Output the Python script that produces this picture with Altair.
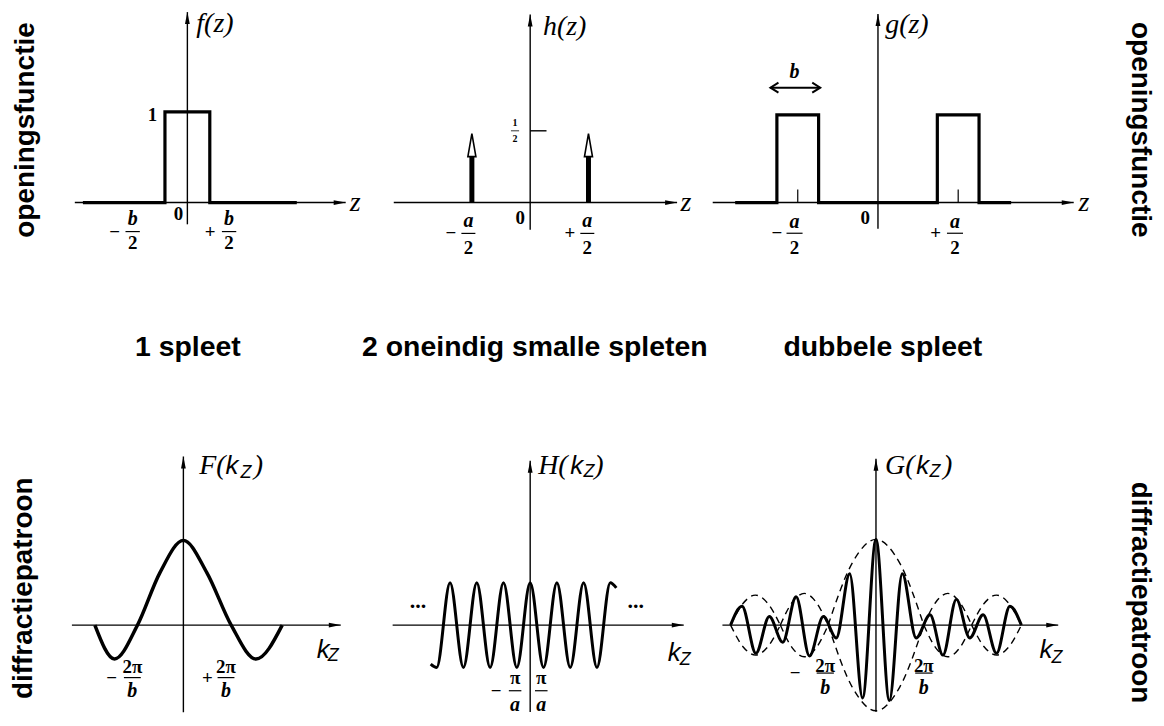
import altair as alt
import pandas as pd

# ---------------- values ----------------
# f(z): one slit of width b (z in units of b), height 1
f_z = [-2.33, -0.5, -0.5, 0.5, 0.5, 2.44]
f_val = [0, 0, 1, 1, 0, 0]

# h(z): two infinitely narrow slits at +-a/2 (z in units of a), weight 1/2
h_pos = [-0.5, 0.5]
h_tip = [0.48, 0.48]
h_stem = [0.32, 0.32]

# g(z): double slit (z in units of a), slit width b ~ 0.26 a
g_z = [-0.89, -0.63, -0.63, -0.37, -0.37, 0.37, 0.37, 0.63, 0.63, 0.83]
g_val = [0, 0, 1, 1, 0, 0, 1, 1, 0, 0]
g_mark = [-0.5, 0.5]
g_b_arrow = [-0.67, -0.36]
g_b_level = 1.31

# F(kz): kz in units of 2pi/b
F_k = [-1.89, -1.47, -0.98, -0.5, 0, 0.5, 1.02, 1.55, 2.11]
F_val = [0, -0.40, 0, 0.62, 1, 0.62, 0, -0.40, 0]

# H(kz): extrema of the cosine fringes
H_k = [-7.45, -7, -6, -5, -4, -3, -2, -1, 0, 1, 2, 3, 4, 5, 6, 6.45]
H_val = [-0.92, -1, 1, -1, 1, -1, 1, -1, 1, -1, 1, -1, 1, -1, 1, 0.88]

# G(kz): extrema of the fringes under the envelope (kz in units of 2pi/b)
G_k = [-3.04, -2.8, -2.51, -2.23, -1.95, -1.67, -1.39, -1.1, -0.83, -0.55, -0.28,
       0, 0.28, 0.55, 0.84, 1.13, 1.40, 1.68, 1.96, 2.24, 2.52, 2.8, 3.04]
G_val = [0, 0.22, -0.33, 0.10, -0.20, 0.33, -0.36, 0.10, -0.15, 0.60, -0.85,
         1.0, -0.88, 0.60, -0.15, 0.12, -0.35, 0.30, -0.15, 0.12, -0.33, 0.22, 0]

# dashed envelope lobes of G
env_start = [-3.04, -2.0, -1.0, 1.0, 2.0]
env_end = [-2.0, -1.0, 1.0, 2.0, 3.04]
env_peak = [0.35, 0.37, 1.0, 0.37, 0.35]
lobe_frac = [0, 0.25, 0.5, 0.75, 1]
lobe_shape = [0, 0.72, 1, 0.72, 0]

slit_names = ["1 spleet", "2 oneindig smalle spleten", "dubbele spleet"]
side_top = "openingsfunctie"
side_bottom = "diffractiepatroon"

# ---------------- layout ----------------
COL_W = [362, 330, 460]
ROW_H = [392, 312]
# origin (px inside panel) and px per unit
FRAMES = {
    "f": (180, 193, 45, 91),
    "h": (162, 193, 117, 144),
    "g": (181, 193, 161, 88),
    "F": (176, 225, 47, 85),
    "H": (162, 225, 13.4, 42.5),
    "G": (179, 225, 48, 86),
}

SERIF = "Liberation Serif"
SANS = "Liberation Sans"
STYLES = {
    "it": dict(font=SERIF, fontStyle="italic", fontSize=28, align="left"),
    "num": dict(font=SERIF, fontWeight="bold", fontSize=19),
    "numit": dict(font=SERIF, fontWeight="bold", fontStyle="italic", fontSize=20),
    "kit": dict(font=SANS, fontStyle="italic", fontSize=26, align="left"),
    "sub": dict(font=SANS, fontStyle="italic", fontSize=18, align="left"),
    "tiny": dict(font=SERIF, fontWeight="bold", fontSize=10),
    "dots": dict(font=SERIF, fontWeight="bold", fontSize=22),
    "label": dict(font=SANS, fontWeight="bold", fontSize=28.5),
    "sideL": dict(font=SANS, fontWeight="bold", fontSize=28, angle=270),
    "sideR": dict(font=SANS, fontWeight="bold", fontSize=28, angle=90),
}

PATHS = {
    "right": ("M0,0L-2,-0.4L-2,0.4Z", 144, True),
    "up": ("M0,0L-0.4,2L0.4,2Z", 144, True),
    "hollow": ("M0,0L0.35,2L-0.35,2Z", 529, False),
    "chevL": ("M1.6,-1L0,0L1.6,1", 100, False),
    "chevR": ("M-1.6,-1L0,0L-1.6,1", 100, False),
}


def curve(xs, ys, seg=0):
    return pd.DataFrame({"x": xs, "y": ys, "s": seg, "i": list(range(len(xs)))})


def panel(key, W, H, curves, segs, points, texts):
    ox, oy, sx, sy = FRAMES[key]
    xs = alt.Scale(domain=[-ox / sx, (W - ox) / sx], nice=False, zero=False)
    ys = alt.Scale(domain=[-(H - oy) / sy, oy / sy], nice=False, zero=False)
    X = alt.X("x:Q", scale=xs, axis=None)
    Y = alt.Y("y:Q", scale=ys, axis=None)
    layers = []
    sdf = pd.DataFrame(segs, columns=["x", "y", "x2", "y2", "w"])
    layers.append(
        alt.Chart(sdf).mark_rule(color="black", strokeCap="butt").encode(
            x=X, y=Y, x2=alt.X2("x2"), y2=alt.Y2("y2"),
            strokeWidth=alt.StrokeWidth("w:Q", scale=None)))
    for df, width, interp, dash in curves:
        kw = dict(color="black", strokeWidth=width, interpolate=interp,
                  strokeJoin="miter", strokeCap="butt")
        if dash:
            kw["strokeDash"] = dash
        layers.append(alt.Chart(df).mark_line(**kw).encode(
            x=X, y=Y, detail="s:N", order="i:Q"))
    pdf = pd.DataFrame(points, columns=["x", "y", "kind"])
    for kind, (path, size, filled) in PATHS.items():
        sub = pdf[pdf.kind == kind]
        if len(sub) == 0:
            continue
        if filled:
            m = alt.Chart(sub).mark_point(shape=path, size=size, filled=True,
                                          color="black", opacity=1)
        elif kind == "hollow":
            m = alt.Chart(sub).mark_point(shape=path, size=size, filled=False,
                                          fill="white", stroke="black",
                                          strokeWidth=1.6, opacity=1, fillOpacity=1)
        else:
            m = alt.Chart(sub).mark_point(shape=path, size=size, filled=False,
                                          stroke="black", strokeWidth=2, opacity=1)
        layers.append(m.encode(x=X, y=Y))
    tdf = pd.DataFrame(texts, columns=["t", "x", "y", "st"])
    for st, props in STYLES.items():
        sub = tdf[tdf.st == st]
        if len(sub) == 0:
            continue
        kw = dict(color="black", baseline="middle")
        kw.update(props)
        layers.append(alt.Chart(sub).mark_text(**kw).encode(x=X, y=Y, text="t:N"))
    return alt.layer(*layers).properties(width=W, height=H)


AX = 1.4
BAR = 1.2

# ---- f(z)
pf = panel(
    "f", COL_W[0], ROW_H[0],
    [(curve(f_z, f_val), 3.2, "linear", None)],
    [(-2.51, 0, 3.53, 0, AX), (0, -0.24, 0, 2.10, AX),
     (-1.38, -0.32, -1.06, -0.32, BAR), (0.77, -0.32, 1.09, -0.32, BAR)],
    [(3.53, 0, "right"), (0, 2.10, "up")],
    [("f(z)", 0.2, 1.97, "it"), ("z", 3.62, 0.0, "it"),
     ("1", -0.78, 0.97, "num"), ("0", -0.2, -0.13, "num"),
     ("\u2212", -1.62, -0.32, "num"), ("b", -1.22, -0.18, "numit"), ("2", -1.22, -0.45, "num"),
     ("+", 0.51, -0.32, "num"), ("b", 0.93, -0.18, "numit"), ("2", 0.93, -0.45, "num"),
     (slit_names[0], 0.01, -1.59, "label"),
     (side_top, -3.6, 0.80, "sideL")],
)

# ---- h(z)
h_segs = [(-1.17, 0, 1.26, 0, AX), (0, -0.19, 0, 1.31, AX),
          (0, 0.5, 0.14, 0.5, AX), (-0.165, 0.5, -0.095, 0.5, 0.8),
          (-0.59, -0.215, -0.47, -0.215, BAR), (0.43, -0.215, 0.55, -0.215, BAR)]
h_segs += [(p, 0, p, s, 5) for p, s in zip(h_pos, h_stem)]
ph = panel(
    "h", COL_W[1], ROW_H[0],
    [],
    h_segs,
    [(1.26, 0, "right"), (0, 1.31, "up")] + [(p, t, "hollow") for p, t in zip(h_pos, h_tip)],
    [("h(z)", 0.11, 1.22, "it"), ("z", 1.29, 0, "it"),
     ("1", -0.13, 0.555, "tiny"), ("2", -0.13, 0.445, "tiny"),
     ("0", -0.085, -0.11, "num"),
     ("\u2212", -0.68, -0.215, "num"), ("a", -0.53, -0.13, "numit"), ("2", -0.53, -0.32, "num"),
     ("+", 0.34, -0.215, "num"), ("a", 0.49, -0.13, "numit"), ("2", 0.49, -0.32, "num"),
     (slit_names[1], 0.04, -1.01, "label")],
)

# ---- g(z)
g_segs = [(-1.03, 0, 1.22, 0, AX), (0, -0.30, 0, 2.15, AX),
          (g_b_arrow[0], g_b_level, g_b_arrow[1], g_b_level, 2),
          (-0.57, -0.35, -0.47, -0.35, BAR), (0.43, -0.35, 0.53, -0.35, BAR)]
g_segs += [(m, 0, m, 0.15, BAR) for m in g_mark]
pg = panel(
    "g", COL_W[2], ROW_H[0],
    [(curve(g_z, g_val), 3.2, "linear", None)],
    g_segs,
    [(1.22, 0, "right"), (0, 2.15, "up"),
     (g_b_arrow[0], g_b_level, "chevL"), (g_b_arrow[1], g_b_level, "chevR")],
    [("g(z)", 0.045, 2.02, "it"), ("z", 1.25, 0, "it"),
     ("b", -0.52, 1.49, "numit"), ("0", -0.08, -0.18, "num"),
     ("\u2212", -0.63, -0.35, "num"), ("a", -0.52, -0.22, "numit"), ("2", -0.52, -0.52, "num"),
     ("+", 0.36, -0.35, "num"), ("a", 0.48, -0.22, "numit"), ("2", 0.48, -0.52, "num"),
     (slit_names[2], 0.03, -1.65, "label"),
     (side_top, 1.63, 0.83, "sideR")],
)

# ---- F(kz)
pF = panel(
    "F", COL_W[0], ROW_H[1],
    [(curve(F_k, F_val), 3.5, "monotone", None)],
    [(-2.38, 0, 3.36, 0, AX), (0, -1.03, 0, 1.99, AX),
     (-1.27, -0.62, -0.91, -0.62, BAR), (0.73, -0.62, 1.09, -0.62, BAR)],
    [(3.36, 0, "right"), (0, 1.99, "up")],
    [("F(", 0.34, 1.88, "it"), ("k", 0.9, 1.88, "kit"), ("Z", 1.22, 1.80, "sub"), (")", 1.5, 1.88, "it"),
     ("k", 2.85, -0.29, "kit"), ("Z", 3.08, -0.37, "sub"),
     ("\u2212", -1.53, -0.62, "num"), ("2\u03c0", -1.09, -0.50, "num"), ("b", -1.09, -0.78, "numit"),
     ("+", 0.51, -0.62, "num"), ("2\u03c0", 0.91, -0.50, "num"), ("b", 0.91, -0.78, "numit"),
     (side_bottom, -3.40, 0.435, "sideL")],
)

# ---- H(kz)
pH = panel(
    "H", COL_W[1], ROW_H[1],
    [(curve(H_k, H_val), 3.0, "monotone", None)],
    [(-10.3, 0, 11.5, 0, AX), (0, -2.05, 0, 3.88, AX),
     (-1.6, -1.55, -0.66, -1.55, BAR), (0.36, -1.55, 1.3, -1.55, BAR)],
    [(11.5, 0, "right"), (0, 3.88, "up")],
    [("H(", 0.6, 3.76, "it"), ("k", 3.0, 3.76, "kit"), ("Z", 4.0, 3.62, "sub"), (")", 4.8, 3.76, "it"),
     ("k", 10.3, -0.66, "kit"), ("Z", 11.2, -0.82, "sub"),
     ("...", -8.4, 0.56, "dots"), ("...", 7.9, 0.56, "dots"),
     ("\u2212", -2.55, -1.55, "num"), ("\u03c0", -1.13, -1.25, "num"), ("a", -1.13, -1.88, "numit"),
     ("\u03c0", 0.83, -1.25, "num"), ("a", 0.83, -1.88, "numit")],
)

# ---- G(kz)
env_frames = []
for j, (a, b, pk) in enumerate(zip(env_start, env_end, env_peak)):
    xs_ = [a + (b - a) * fr for fr in lobe_frac]
    env_frames.append(curve(xs_, [pk * s for s in lobe_shape], 2 * j))
    env_frames.append(curve(xs_, [-pk * s for s in lobe_shape], 2 * j + 1))
env_df = pd.concat(env_frames, ignore_index=True)

pG = panel(
    "G", COL_W[2], ROW_H[1],
    [(env_df, 1.4, "monotone", [7, 5]), (curve(G_k, G_val), 3.0, "monotone", None)],
    [(-3.21, 0, 3.81, 0, AX), (0, -1.01, 0, 1.94, AX),
     (-1.24, -0.56, -0.88, -0.56, BAR), (0.82, -0.56, 1.18, -0.56, BAR)],
    [(3.81, 0, "right"), (0, 1.94, "up")],
    [("G(", 0.19, 1.86, "it"), ("k", 0.84, 1.86, "kit"), ("Z", 1.12, 1.79, "sub"), (")", 1.4, 1.86, "it"),
     ("k", 3.42, -0.29, "kit"), ("Z", 3.67, -0.38, "sub"),
     ("\u2212", -1.69, -0.56, "num"), ("2\u03c0", -1.06, -0.48, "num"), ("b", -1.06, -0.74, "numit"),
     ("2\u03c0", 1.0, -0.48, "num"), ("b", 1.0, -0.74, "numit"),
     (side_bottom, 5.52, 0.38, "sideR")],
)

chart = alt.concat(pf, ph, pg, pF, pH, pG, columns=3, spacing=0, bounds="flush",
                   padding=0).configure(
    background="white", view=alt.ViewConfig(stroke="transparent", strokeWidth=0))

chart.save("out.html", embed_options={"renderer": "svg", "actions": False})
